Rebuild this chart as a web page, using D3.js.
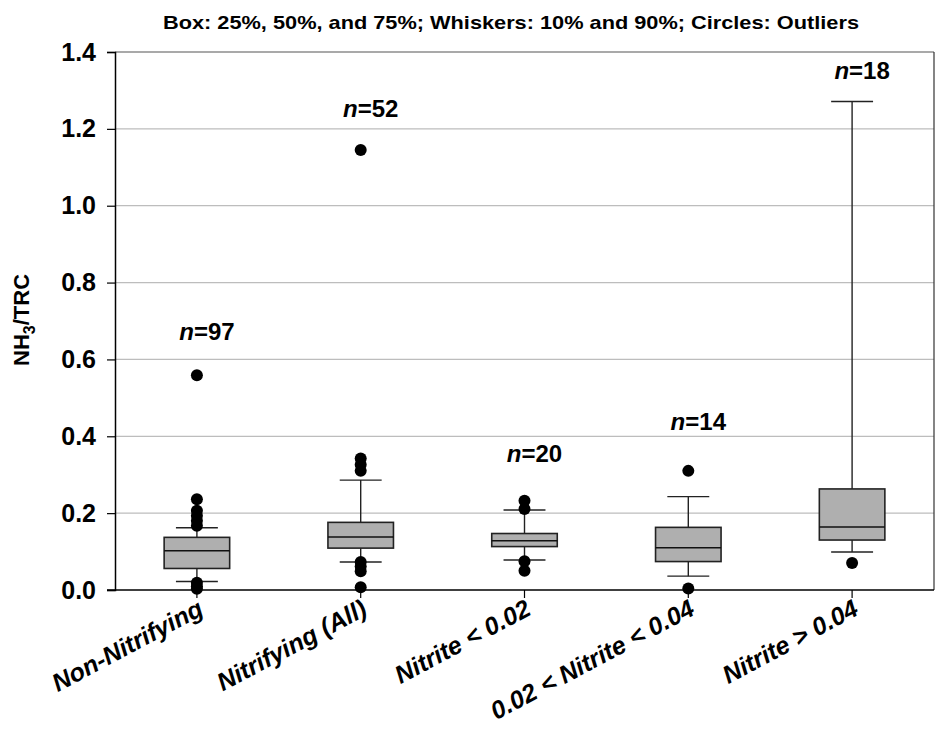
<!DOCTYPE html>
<html>
<head>
<meta charset="utf-8">
<script src="https://cdn.jsdelivr.net/npm/d3@7"></script>
<style>
  html, body { margin: 0; padding: 0; background: #fff; }
  svg { display: block; font-family: "Liberation Sans", Arial, Helvetica, sans-serif; }
</style>
</head>
<body>
<svg id="chart" width="942" height="736"></svg>
<script>
// Groups and their summary statistics (NH3/TRC ratio)
const categories = ["Non-Nitrifying", "Nitrifying (All)", "Nitrite < 0.02", "0.02 < Nitrite < 0.04", "Nitrite > 0.04"];
const p10    = [0.022, 0.073, 0.078, 0.036, 0.099];
const q1     = [0.056, 0.109, 0.113, 0.074, 0.130];
const median = [0.102, 0.138, 0.128, 0.110, 0.164];
const q3     = [0.137, 0.176, 0.147, 0.163, 0.263];
const p90    = [0.162, 0.286, 0.208, 0.243, 1.271];
const outliers = [
  [0.559, 0.236, 0.206, 0.193, 0.180, 0.167, 0.019, 0.010, 0.003],
  [1.145, 0.342, 0.326, 0.310, 0.073, 0.061, 0.049, 0.007],
  [0.232, 0.211, 0.075, 0.050],
  [0.310, 0.004],
  [0.070]
];
const sampleSize = [97, 52, 20, 14, 18];
const sampleLabelAt = [0.65, 1.23, 0.333, 0.416, 1.33];
const yTicks = [0.0, 0.2, 0.4, 0.6, 0.8, 1.0, 1.2, 1.4];
const titleText = "Box: 25%, 50%, and 75%; Whiskers: 10% and 90%; Circles: Outliers";

const margin = { left: 115, right: 8, top: 52, bottom: 146 };
const W = 942, H = 736;
const svg = d3.select("#chart");

const x = d3.scaleBand().domain(categories).range([margin.left, W - margin.right]).padding(0);
const y = d3.scaleLinear().domain([0, 1.4]).range([H - margin.bottom, margin.top]);

const boxW = x.bandwidth() * 0.40;
const capW = x.bandwidth() * 0.256;

// horizontal grid lines
svg.append("g")
  .selectAll("line")
  .data(yTicks.filter(t => t > 0 && t < 1.4))
  .join("line")
  .attr("x1", margin.left).attr("x2", W - margin.right)
  .attr("y1", d => y(d)).attr("y2", d => y(d))
  .attr("stroke", "#bdbdbd").attr("stroke-width", 1.2);

// frame: top and right
svg.append("line")
  .attr("x1", margin.left).attr("x2", W - margin.right)
  .attr("y1", y(1.4)).attr("y2", y(1.4))
  .attr("stroke", "#555").attr("stroke-width", 1.2);
svg.append("line")
  .attr("x1", W - margin.right).attr("x2", W - margin.right)
  .attr("y1", y(1.4)).attr("y2", y(0))
  .attr("stroke", "#333").attr("stroke-width", 1.2);

// Y axis
const yAxis = d3.axisLeft(y).tickValues(yTicks).tickFormat(d3.format(".1f")).tickSize(8).tickPadding(11);
const gy = svg.append("g").attr("transform", `translate(${margin.left},0)`).call(yAxis);
gy.select(".domain").attr("stroke", "#000").attr("stroke-width", 1.5);
gy.selectAll(".tick line").attr("stroke", "#000").attr("stroke-width", 1.2);
gy.selectAll(".tick text")
  .attr("font-size", 25).attr("font-weight", "bold").attr("fill", "#000")
  .attr("font-family", "'Liberation Sans', Arial, sans-serif");

// X axis
const xAxis = d3.axisBottom(x).tickSize(8).tickSizeOuter(0).tickFormat("");
const gx = svg.append("g").attr("transform", `translate(0,${y(0)})`).call(xAxis);
gx.select(".domain").attr("stroke", "#000").attr("stroke-width", 1.5)
  .attr("d", `M${margin.left - 8},0H${W - margin.right}`);
gx.selectAll(".tick line").attr("stroke", "#000").attr("stroke-width", 1.2);

// rotated category labels
svg.append("g")
  .selectAll("text")
  .data(categories)
  .join("text")
  .attr("transform", d => `translate(${x(d) + x.bandwidth() / 2 + 8},${y(0) + 24}) rotate(-28)`)
  .attr("text-anchor", "end")
  .attr("font-size", 25).attr("font-weight", "bold").attr("font-style", "italic")
  .attr("fill", "#000")
  .text(d => d);

// boxes
const groups = svg.append("g")
  .selectAll("g")
  .data(categories.map((c, i) => ({ c, i })))
  .join("g")
  .attr("transform", d => `translate(${x(d.c) + x.bandwidth() / 2},0)`);

// whisker stems
groups.append("line")
  .attr("x1", 0).attr("x2", 0)
  .attr("y1", d => y(q3[d.i])).attr("y2", d => y(p90[d.i]))
  .attr("stroke", "#222").attr("stroke-width", 1.4);
groups.append("line")
  .attr("x1", 0).attr("x2", 0)
  .attr("y1", d => y(q1[d.i])).attr("y2", d => y(p10[d.i]))
  .attr("stroke", "#222").attr("stroke-width", 1.4);
// whisker caps
groups.append("line")
  .attr("x1", -capW / 2).attr("x2", capW / 2)
  .attr("y1", d => y(p90[d.i])).attr("y2", d => y(p90[d.i]))
  .attr("stroke", "#222").attr("stroke-width", 1.4);
groups.append("line")
  .attr("x1", -capW / 2).attr("x2", capW / 2)
  .attr("y1", d => y(p10[d.i])).attr("y2", d => y(p10[d.i]))
  .attr("stroke", "#222").attr("stroke-width", 1.4);
// box
groups.append("rect")
  .attr("x", -boxW / 2).attr("width", boxW)
  .attr("y", d => y(q3[d.i])).attr("height", d => y(q1[d.i]) - y(q3[d.i]))
  .attr("fill", "#afafaf").attr("stroke", "#222").attr("stroke-width", 1.6);
// median
groups.append("line")
  .attr("x1", -boxW / 2).attr("x2", boxW / 2)
  .attr("y1", d => y(median[d.i])).attr("y2", d => y(median[d.i]))
  .attr("stroke", "#111").attr("stroke-width", 1.6);
// outliers
groups.selectAll("circle")
  .data(d => outliers[d.i])
  .join("circle")
  .attr("cx", 0).attr("cy", v => y(v)).attr("r", 6)
  .attr("fill", "#000");

// sample size labels
const nLab = svg.append("g")
  .selectAll("text")
  .data(categories.map((c, i) => ({ c, i })))
  .join("text")
  .attr("x", d => x(d.c) + x.bandwidth() / 2 + 10)
  .attr("y", d => y(sampleLabelAt[d.i]))
  .attr("text-anchor", "middle")
  .attr("font-size", 24).attr("font-weight", "bold").attr("fill", "#000");
nLab.append("tspan").attr("font-style", "italic").text("n");
nLab.append("tspan").text(d => "=" + sampleSize[d.i]);

// y axis title
const yt = svg.append("text")
  .attr("transform", `translate(29,${(y(0) + y(1.4)) / 2 - 1}) rotate(-90)`)
  .attr("text-anchor", "middle")
  .attr("font-size", 22).attr("font-weight", "bold").attr("fill", "#000");
yt.append("tspan").text("NH");
yt.append("tspan").attr("font-size", 16).attr("dy", 6).text("3");
yt.append("tspan").attr("dy", -6).text("/TRC");

// title
svg.append("text")
  .attr("x", 511).attr("y", 29)
  .attr("text-anchor", "middle")
  .attr("font-size", 19).attr("font-weight", "bold").attr("fill", "#000")
  .attr("textLength", 696).attr("lengthAdjust", "spacingAndGlyphs")
  .text(titleText);
</script>
</body>
</html>
